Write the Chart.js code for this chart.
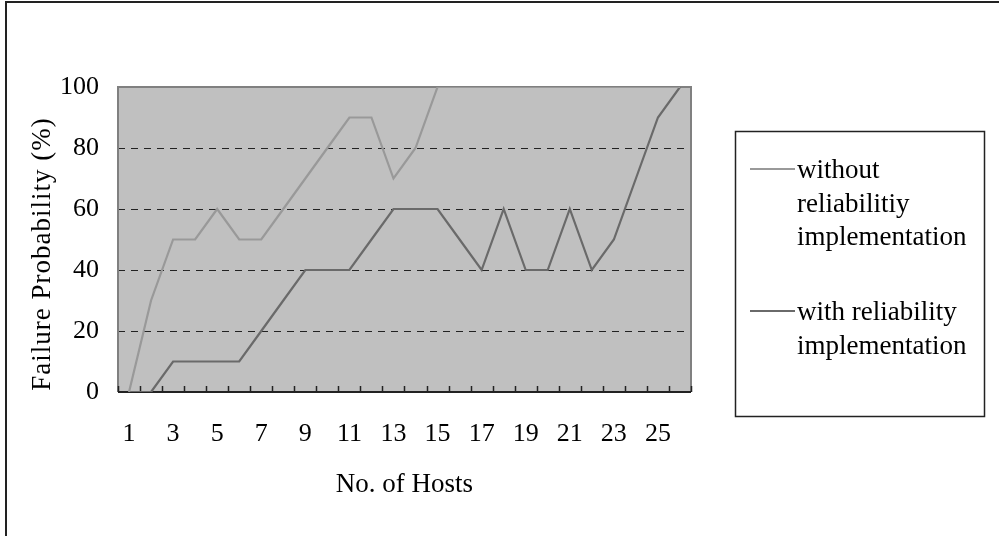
<!DOCTYPE html>
<html>
<head>
<meta charset="utf-8">
<script src="https://cdn.jsdelivr.net/npm/chart.js@4/dist/chart.umd.min.js"></script>
<style>
  html, body { margin: 0; padding: 0; background: #fff; }
  #wrap { width: 999px; height: 536px; position: relative; }
</style>
</head>
<body>
<div id="wrap"><canvas id="failChart"></canvas></div>
<script>
  const hosts = ['1','2','3','4','5','6','7','8','9','10','11','12','13','14','15','16','17','18','19','20','21','22','23','24','25','26'];
  const withoutReliability = [0, 30, 50, 50, 60, 50, 50, 60, 70, 80, 90, 90, 70, 80, 100, 100, 100, 100, 100, 100, 100, 100, 100, 100, 100, 100];
  const withReliability = [0, 0, 10, 10, 10, 10, 20, 30, 40, 40, 40, 50, 60, 60, 60, 50, 40, 60, 40, 40, 60, 40, 50, 70, 90, 100];
  const yTicks = [0, 20, 40, 60, 80, 100];
  const yTitle = 'Failure Probability (%)';
  const legendLines = [
    ['without', 'reliabilitiy', 'implementation'],
    ['with reliability', 'implementation']
  ];

  const serif = '"Liberation Serif", "Times New Roman", serif';

  /*Background, frame, tick marks, y title, legend box*/
  const framePlugin = {
    id: 'frame',
    beforeDraw(chart) {
      const c = chart.ctx;
      const a = chart.chartArea;
      c.save();
      c.fillStyle = '#fff';
      c.fillRect(0, 0, chart.width, chart.height);
      c.strokeStyle = '#222';
      c.lineWidth = 2;
      c.beginPath();
      c.moveTo(6, chart.height);
      c.lineTo(6, 2);
      c.lineTo(chart.width, 2);
      c.stroke();
      c.fillStyle = '#c0c0c0';
      c.fillRect(a.left, a.top, a.right - a.left, a.bottom - a.top);
      c.restore();
    },
    beforeDatasetsDraw(chart) {
      const c = chart.ctx;
      const a = chart.chartArea;
      const x = chart.scales.x;
      c.save();
      c.strokeStyle = '#808080';
      c.lineWidth = 2;
      c.beginPath();
      c.moveTo(a.left, a.bottom);
      c.lineTo(a.left, a.top);
      c.lineTo(a.right, a.top);
      c.lineTo(a.right, a.bottom);
      c.stroke();
      c.strokeStyle = '#222';
      c.lineWidth = 2;
      c.beginPath();
      c.moveTo(a.left, a.bottom);
      c.lineTo(a.right, a.bottom);
      c.stroke();
      c.lineWidth = 1.5;
      c.beginPath();
      const n = hosts.length;
      const w = (x.getPixelForValue(n - 1) - x.getPixelForValue(0)) / (n - 1);
      for (let i = 0; i <= n; i++) {
        const px = Math.round(x.getPixelForValue(0) - w / 2 + i * w) + 0.5;
        c.moveTo(px, a.bottom);
        c.lineTo(px, a.bottom - 6);
      }
      c.stroke();
      c.restore();
    },
    afterDraw(chart) {
      const c = chart.ctx;
      c.save();
      c.fillStyle = '#000';
      c.font = '27px ' + serif;
      c.textAlign = 'center';
      c.textBaseline = 'middle';
      c.letterSpacing = '1px';
      c.translate(43, 254);
      c.rotate(-Math.PI / 2);
      c.fillText(yTitle, 0, 0);
      c.restore();

      c.save();
      c.strokeStyle = '#222';
      c.lineWidth = 1.5;
      c.strokeRect(735.5, 131.5, 249, 285);
      c.font = '27px ' + serif;
      c.fillStyle = '#000';
      c.textBaseline = 'middle';
      const starts = [171, 313];
      chart.data.datasets.forEach((ds, i) => {
        c.strokeStyle = ds.borderColor;
        c.lineWidth = 2;
        c.beginPath();
        c.moveTo(750, starts[i] - 2);
        c.lineTo(795, starts[i] - 2);
        c.stroke();
        legendLines[i].forEach((t, j) => {
          c.fillText(t, 797, starts[i] + j * 33.5);
        });
      });
      c.restore();
    }
  };

  const ctx = document.getElementById('failChart').getContext('2d');

  new Chart(ctx, {
    type: 'line',
    data: {
      labels: hosts,
      datasets: [{
        label: 'without reliabilitiy implementation',
        data: withoutReliability,
        borderColor: '#999999',
        borderWidth: 2.2,
        pointRadius: 0,
        tension: 0
      }, {
        label: 'with reliability implementation',
        data: withReliability,
        borderColor: '#6a6a6a',
        borderWidth: 2.2,
        pointRadius: 0,
        tension: 0
      }]
    },
    options: {
      responsive: true,
      maintainAspectRatio: false,
      animation: false,
      events: [],
      layout: { padding: { left: 0, right: 308, top: 87, bottom: 0 } },
      plugins: {
        legend: { display: false },
        tooltip: { enabled: false }
      },
      scales: {
        x: {
          offset: true,
          afterFit: (s) => { s.height = 144; },
          grid: { display: false },
          border: { display: false },
          ticks: {
            autoSkip: false,
            maxRotation: 0,
            padding: 19,
            color: '#000',
            font: { family: serif, size: 26 },
            callback: (v, i) => (i % 2 === 0 ? hosts[i] : '')
          },
          title: {
            display: true,
            text: 'No. of Hosts',
            color: '#000',
            font: { family: serif, size: 27 },
            padding: { top: 4, bottom: 35 }
          }
        },
        y: {
          min: 0,
          max: 100,
          afterFit: (s) => { s.width = 118; },
          afterBuildTicks: (s) => { s.ticks = yTicks.map(v => ({ value: v })); },
          border: { display: false, dash: [7, 6] },
          grid: {
            drawTicks: false,
            color: (c) => (c.tick && (c.tick.value === 0 || c.tick.value === 100) ? 'rgba(0,0,0,0)' : '#222'),
            lineWidth: 1
          },
          ticks: {
            padding: 19,
            color: '#000',
            font: { family: serif, size: 26 }
          }
        }
      }
    },
    plugins: [framePlugin]
  });
</script>
</body>
</html>
